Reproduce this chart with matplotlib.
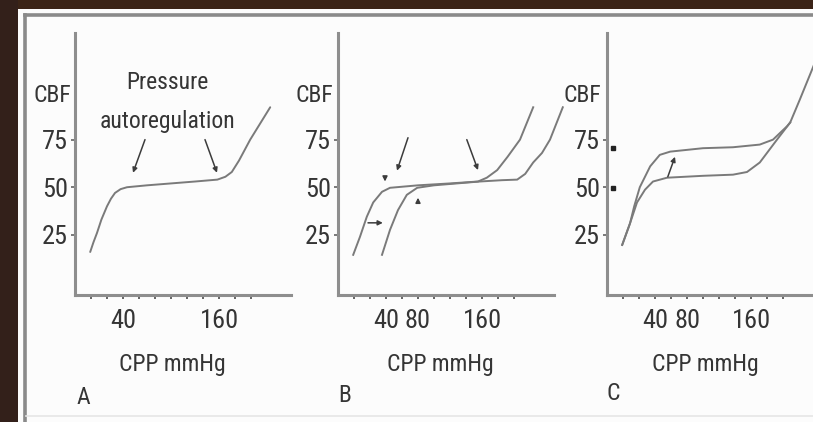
import matplotlib
matplotlib.use("Agg")
import matplotlib.pyplot as plt
from matplotlib import font_manager
from matplotlib.lines import Line2D
from matplotlib.patches import Rectangle

# ---------------- data ----------------
x_ticks = [0, 20, 40, 60, 80, 100, 120, 140, 160, 180, 200]
y_ticks = [25, 50, 75]
y_tick_labels = ["25", "50", "75"]
panel_letters = ["A", "B", "C"]
x_tick_labels_A = {40: "40", 160: "160"}
x_tick_labels_BC = {40: "40", 80: "80", 160: "160"}

# Panel A: normal autoregulation curve
a_x = [-1, 3, 7.5, 13, 20, 25, 30, 37, 45, 70, 100, 130, 158, 168, 176, 185, 199, 224]
a_y = [16, 21, 26, 33, 40, 44, 47, 49, 50, 51, 52, 53, 54, 55.5, 58, 64, 75, 92]

# Panel B: normal curve and right-shifted (chronic hypertension) curve
b1_x = [-1, 7.5, 16, 24, 35, 45, 80, 120, 155, 166, 179, 192, 207.5, 224]
b1_y = [14.5, 24, 34.5, 42, 47.6, 49.7, 51, 52, 53, 55, 59, 66, 75, 92]
b2_x = [35, 45, 55, 66, 79, 100, 157, 185, 204, 214, 224, 235, 245, 261]
b2_y = [14.5, 27.6, 38, 46, 49.7, 51, 53, 53.7, 54, 57, 63, 68, 75, 92]

# Panel C: lower and upper plateau curves
c1_x = [-1, 8.75, 17.5, 27.5, 37.5, 55, 100, 137.5, 155, 171, 192.5, 209, 221, 237.5, 252]
c1_y = [19.7, 31, 42, 48.7, 53, 55, 56, 56.6, 58, 63, 75, 84, 96, 113, 128]
c2_x = [-1, 8.75, 14, 21, 34, 46, 59, 100, 137.5, 171, 187.5, 205, 209]
c2_y = [19.7, 31, 40, 50, 61, 67, 68.7, 70.5, 71, 72.4, 75, 82, 84]

# ---------------- font choice (prefer a condensed sans) ----------------
fl = font_manager.fontManager.ttflist
names = {f.name for f in fl}
FONT, STRETCH, FS, TFS = None, "normal", 17, 19
for cand in ("Liberation Sans Narrow", "Roboto Condensed", "Open Sans Condensed",
             "Noto Sans Condensed", "DejaVu Sans Condensed", "Arial Narrow"):
    if cand in names:
        FONT = cand
        break
if FONT is None:
    for fam in ("Noto Sans", "Roboto", "Open Sans", "DejaVu Sans", "Inter"):
        hits = [f for f in fl if f.name == fam and str(f.stretch) in
                ("condensed", "semi-condensed", "extra-condensed", "75", "87.5", "62.5")]
        if hits:
            FONT, STRETCH = fam, hits[0].stretch
            break
if FONT is None:
    FONT = "Liberation Sans" if "Liberation Sans" in names else "DejaVu Sans"
    FS, TFS = 14, 16

plt.rcParams["font.family"] = [FONT, "DejaVu Sans"]
plt.rcParams["font.stretch"] = STRETCH

# ---------------- figure ----------------
W, H = 813, 422
fig = plt.figure(figsize=(W / 100, H / 100), dpi=100)
fig.patch.set_facecolor("#fcfcfc")

TXT = "#353535"
CURVE = "#7a7a7a"
AXC = "#8e8e8e"


def fx(px):
    return px / W


def fy(py):
    return 1 - py / H


# photo frame: brown background strips and grey border
fig.patches.append(Rectangle((0, fy(9)), 1, 9 / H, transform=fig.transFigure,
                             facecolor="#3b2417", edgecolor="none", zorder=0))
fig.patches.append(Rectangle((0, 0), 18 / W, 1, transform=fig.transFigure,
                             facecolor="#33201a", edgecolor="none", zorder=0))
fig.lines.append(Line2D([fx(24.5), 1], [fy(14.5), fy(14.5)], transform=fig.transFigure,
                        color="#8a8a8a", lw=2.6))
fig.lines.append(Line2D([fx(24.5), fx(24.5)], [fy(14.5), 0], transform=fig.transFigure,
                        color="#8a8a8a", lw=2.6))
fig.lines.append(Line2D([fx(26), 1], [fy(416), fy(416)], transform=fig.transFigure,
                        color="#e6e6e6", lw=1.2))


def make_ax(left_px, xlabels):
    ax = fig.add_axes([fx(left_px), fy(295), 232 / W, 262 / H])
    ax.set_xlim(-20, 270)
    ax.set_ylim(-6.6, 131)
    ax.patch.set_alpha(0)
    for s in ("top", "right"):
        ax.spines[s].set_visible(False)
    for s in ("left", "bottom"):
        ax.spines[s].set_color(AXC)
        ax.spines[s].set_linewidth(2.2)
    ax.spines["bottom"].set_bounds(-20, 250)
    ax.set_xticks(x_ticks)
    ax.set_xticklabels([xlabels.get(t, "") for t in x_ticks])
    ax.set_yticks(y_ticks)
    ax.set_yticklabels(y_tick_labels)
    ax.tick_params(axis="x", direction="out", length=3, width=1.2, color="#4a4a4a",
                   pad=7, labelsize=TFS, labelcolor=TXT)
    ax.tick_params(axis="y", direction="out", length=3, width=1.1, color="#555555",
                   pad=2, labelsize=TFS, labelcolor=TXT)
    return ax


axA = make_ax(75, x_tick_labels_A)
axB = make_ax(338, x_tick_labels_BC)
axC = make_ax(607, x_tick_labels_BC)

lw = 1.4
axA.plot(a_x, a_y, color=CURVE, lw=lw, solid_capstyle="round")
axB.plot(b1_x, b1_y, color=CURVE, lw=lw, clip_on=False)
axB.plot(b2_x, b2_y, color=CURVE, lw=lw, clip_on=False)
axC.plot(c1_x, c1_y, color=CURVE, lw=lw, clip_on=False)
axC.plot(c2_x, c2_y, color=CURVE, lw=lw, clip_on=False)

arrow = dict(arrowstyle="-|>", color="#3c3c3c", lw=1.1, mutation_scale=7,
             shrinkA=0, shrinkB=0)

# Panel A annotation
axA.text(96, 105, "Pressure", ha="center", va="center", fontsize=FS, color=TXT)
axA.text(96, 84.5, "autoregulation", ha="center", va="center", fontsize=FS, color=TXT)
axA.annotate("", xy=(52.5, 57.6), xytext=(67.5, 75), arrowprops=arrow)
axA.annotate("", xy=(157.5, 57.6), xytext=(142.5, 75), arrowprops=arrow)

# Panel B arrows
axB.annotate("", xy=(53.75, 58.7), xytext=(67.5, 76), arrowprops=arrow)
axB.annotate("", xy=(155, 59), xytext=(141, 75), arrowprops=arrow)
axB.annotate("", xy=(36, 31.3), xytext=(17.5, 31.3), arrowprops=arrow)
axB.annotate("", xy=(38.75, 53), xytext=(38.75, 55), arrowprops=arrow)
axB.annotate("", xy=(80, 44.5), xytext=(80, 42.5), arrowprops=arrow)

# Panel C arrows / markers
axC.annotate("", xy=(65, 66), xytext=(56, 55.5), arrowprops=arrow)
axC.plot([-12.5, -12.5], [70.8, 49.7], linestyle="none", marker="s", markersize=3,
         color="#222222", clip_on=False)

# axis titles and panel letters
for ax, cx, cbf_x, lx, ly in ((axA, 172, 52, 83, 397), (axB, 440, 314, 345, 395),
                              (axC, 705, 582, 613, 393)):
    fig.text(fx(cx), fy(365), "CPP mmHg", ha="center", va="center", fontsize=FS, color=TXT)
    fig.text(fx(cbf_x), fy(95), "CBF", ha="center", va="center", fontsize=FS, color=TXT)
    letter = panel_letters[[axA, axB, axC].index(ax)]
    fig.text(fx(lx), fy(ly), letter, ha="center", va="center", fontsize=FS, color=TXT)

fig.savefig("out.png", dpi=100, facecolor=fig.get_facecolor())
